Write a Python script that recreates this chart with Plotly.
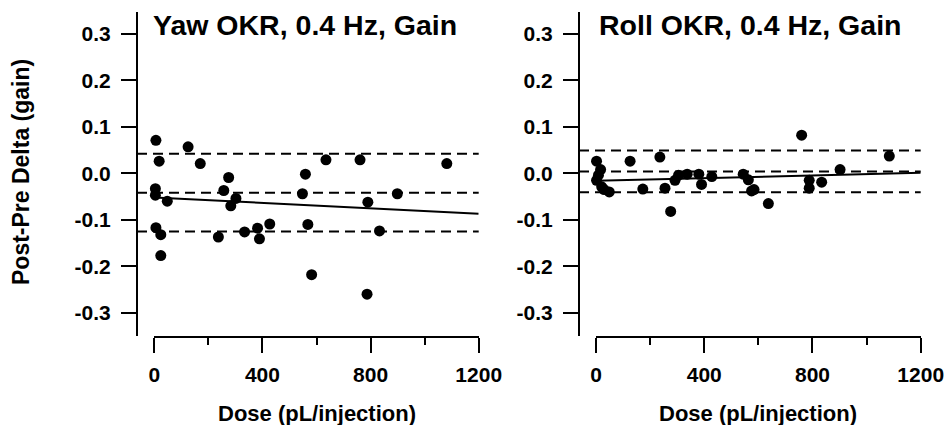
import plotly.graph_objects as go

# ---- data ----
yaw_dose = [6, 18, 125, 170, 4, 4, 48, 275, 257, 302, 283, 6, 24, 24, 237, 334, 382, 389,
            427, 559, 548, 568, 582, 635, 761, 1082, 899, 790, 833, 787]
yaw_gain = [0.071, 0.026, 0.057, 0.021, -0.033, -0.047, -0.060, -0.009, -0.037, -0.054,
            -0.070, -0.117, -0.132, -0.177, -0.137, -0.126, -0.118, -0.141, -0.109, -0.002,
            -0.044, -0.110, -0.218, 0.029, 0.029, 0.021, -0.044, -0.062, -0.124, -0.260]

roll_dose = [2, 17, 9, 2, 21, 30, 49, 126, 173, 236, 255, 276, 292, 305, 337, 380, 390, 428,
             544, 563, 575, 584, 637, 760, 788, 788, 834, 902, 1084]
roll_gain = [0.026, 0.008, -0.004, -0.015, -0.029, -0.035, -0.040, 0.026, -0.034, 0.035,
             -0.032, -0.082, -0.015, -0.004, -0.002, -0.002, -0.024, -0.007, -0.002, -0.014,
             -0.038, -0.035, -0.065, 0.082, -0.015, -0.032, -0.019, 0.008, 0.037]

fit_dose = [0, 1200]
yaw_fit = [-0.052, -0.087]
roll_fit = [-0.016, 0.001]

yaw_bands = [0.042, -0.042, -0.125]     # mean +/- SD
roll_bands = [0.049, 0.004, -0.041]

titles = ["Yaw OKR, 0.4 Hz, Gain", "Roll OKR, 0.4 Hz, Gain"]
x_title = "Dose (pL/injection)"
y_title = "Post-Pre Delta (gain)"
y_tickvals = [0.3, 0.2, 0.1, 0.0, -0.1, -0.2, -0.3]
y_ticktext = ["0.3", "0.2", "0.1", "0.0", "-0.1", "-0.2", "-0.3"]
x_tickvals = [0, 400, 800, 1200]

# ---- layout geometry (pixels) ----
W, H = 948, 425
FONT = "Liberation Sans, Arial, sans-serif"
px = lambda v: v / W
py = lambda v: 1 - v / H

panels = [
    dict(x0=154.3, x1=478.7, yax=137.0, dose=yaw_dose, gain=yaw_gain, fit=yaw_fit, bands=yaw_bands, tx=151.0),
    dict(x0=596.0, x1=920.7, yax=579.0, dose=roll_dose, gain=roll_gain, fit=roll_fit, bands=roll_bands, tx=597.0),
]
y_top, y_bot = 12.0, 336.0
zero_px, per_unit = 173.3, 465.0
y_range = [-(y_bot - zero_px) / per_unit, (zero_px - y_top) / per_unit]

fig = go.Figure()
shapes, annotations = [], []
for i, p in enumerate(panels):
    n = "" if i == 0 else str(i + 1)
    xa, ya = "x" + n, "y" + n
    fig.add_trace(go.Scatter(x=fit_dose, y=p["fit"], mode="lines", xaxis=xa, yaxis=ya,
                             line=dict(color="black", width=2), showlegend=False, hoverinfo="skip"))
    fig.add_trace(go.Scatter(x=p["dose"], y=p["gain"], mode="markers", xaxis=xa, yaxis=ya,
                             marker=dict(color="black", size=11), cliponaxis=False, showlegend=False))
    for b in p["bands"]:
        shapes.append(dict(type="line", xref="paper", yref=ya, x0=px(p["yax"]), x1=px(p["x1"]),
                           y0=b, y1=b, line=dict(color="black", width=2, dash="10px,6px")))
    axis_common = dict(showgrid=False, zeroline=False, showline=True, linecolor="black", linewidth=2,
                       ticks="outside", ticklen=15, tickwidth=2, tickcolor="black", automargin=False,
                       tickfont=dict(family=FONT, size=21, color="black", weight="bold"))
    fig.update_layout(**{
        ("xaxis" + n): dict(domain=[px(p["x0"]), px(p["x1"])], range=[0, 1200], anchor=ya,
                            tickvals=x_tickvals, ticklabelstandoff=4,
                            minor=dict(dtick=200, ticks="outside", ticklen=7, tickwidth=2, tickcolor="black"),
                            **axis_common),
        ("yaxis" + n): dict(domain=[py(y_bot), py(y_top)], range=y_range, anchor="free",
                            position=px(p["yax"]), tickvals=y_tickvals, ticktext=y_ticktext,
                            ticklabelstandoff=6, **axis_common),
    })
    annotations.append(dict(text=titles[i], xref="paper", yref="paper", x=px(p["tx"]), y=py(25),
                            xanchor="left", yanchor="middle", showarrow=False,
                            font=dict(family=FONT, size=28.5, color="black", weight="bold")))
    annotations.append(dict(text=x_title, xref="paper", yref="paper", x=px((p["x0"] + p["x1"]) / 2),
                            y=py(413), xanchor="center", yanchor="middle", showarrow=False,
                            font=dict(family=FONT, size=22, color="black", weight="bold")))

annotations.append(dict(text=y_title, xref="paper", yref="paper", x=px(21), y=py(172), textangle=-90,
                        xanchor="center", yanchor="middle", showarrow=False,
                        font=dict(family=FONT, size=23, color="black", weight="bold")))

fig.update_layout(width=W, height=H, autosize=False, margin=dict(l=0, r=0, t=0, b=0, pad=0),
                  paper_bgcolor="white", plot_bgcolor="white", shapes=shapes, annotations=annotations)
fig.write_html("out.html", config={"displayModeBar": False},
               post_script="document.body.style.margin='0';")
